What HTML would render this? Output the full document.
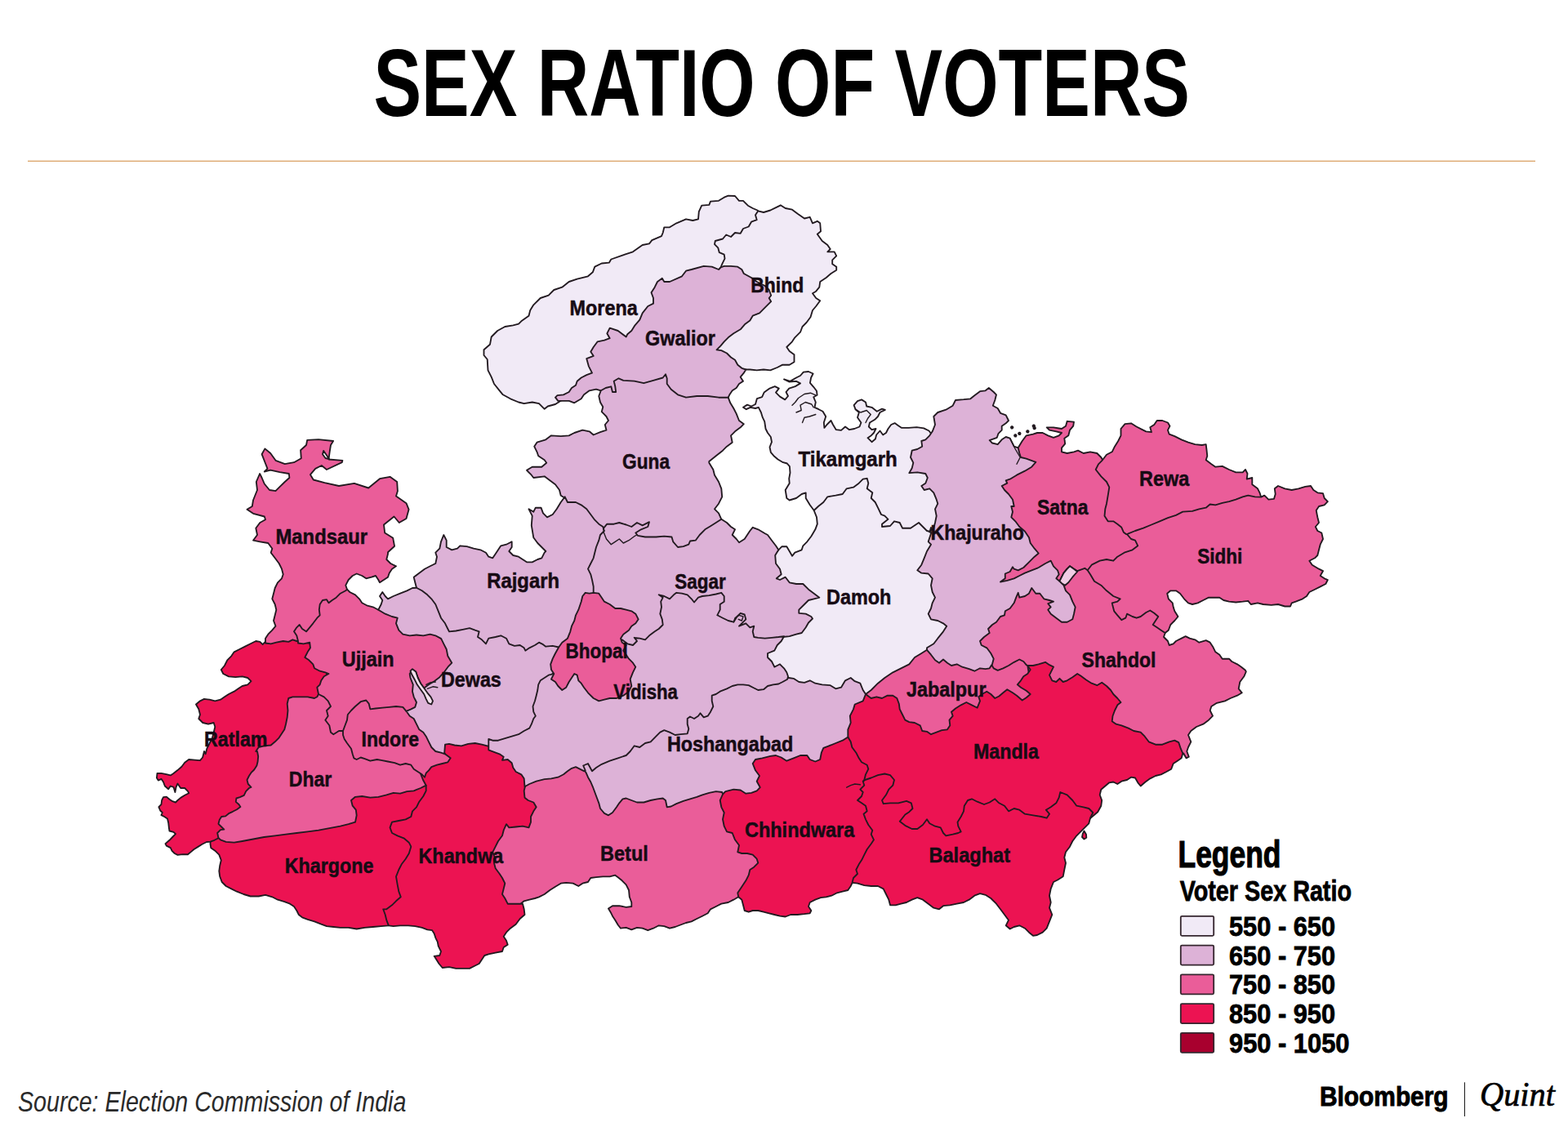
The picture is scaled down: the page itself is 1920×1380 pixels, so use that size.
<!DOCTYPE html>
<html><head><meta charset="utf-8"><title>Sex Ratio of Voters</title>
<style>
html,body{margin:0;padding:0;background:#fff;}
body{width:1920px;height:1380px;overflow:hidden;font-family:"Liberation Sans",sans-serif;}
svg{display:block;}

</style></head><body>
<svg width="1920" height="1380" viewBox="0 0 1920 1380" font-family="Liberation Sans, sans-serif">
<rect width="1920" height="1380" fill="#fff"/>
<g stroke="#221a20" stroke-width="1.85" stroke-linejoin="round">
<path d="M927.5,257.5 L921.7,255.0 L915.8,251.7 L910.0,245.8 L905.0,245.8 L900.0,240.0 L891.7,239.7 L886.7,241.7 L880.0,245.8 L870.0,246.7 L868.3,250.8 L859.2,251.7 L855.8,259.2 L855.0,268.3 L848.3,270.0 L840.0,268.3 L828.3,273.3 L820.0,278.3 L813.3,278.3 L811.7,285.0 L810.0,289.2 L798.3,294.2 L795.0,298.3 L786.7,300.0 L775.0,308.3 L765.0,311.7 L748.3,317.5 L745.8,321.7 L736.7,322.5 L728.3,326.7 L725.8,333.3 L720.0,338.3 L706.7,341.7 L696.7,345.0 L688.3,351.7 L678.3,355.0 L671.7,361.7 L661.7,365.0 L653.3,373.3 L649.2,380.0 L647.5,386.7 L638.3,393.3 L635.0,396.7 L628.3,398.3 L618.3,400.0 L609.2,405.0 L601.7,412.5 L600.0,421.7 L592.5,428.3 L592.5,435.0 L596.7,440.0 L597.5,453.3 L601.7,461.7 L605.0,470.0 L611.7,478.3 L615.8,483.3 L625.0,488.3 L635.0,492.5 L641.7,494.2 L651.7,492.5 L660.0,494.2 L666.7,500.8 L670.8,497.5 L680.0,495.0 L686.7,490.8 L760.0,450.0 L860.0,380.0 L900.0,300.0 L940.0,290.0 L934.0,265.0Z" fill="#F1EAF6"/>
<path d="M928.3,258.3 L935.0,260.0 L943.3,257.5 L951.7,253.3 L955.8,251.3 L961.7,255.0 L970.0,256.7 L976.7,261.7 L985.0,267.5 L991.7,265.8 L995.0,273.3 L1000.8,270.8 L1004.2,273.3 L1005.0,283.3 L1000.8,286.7 L1006.7,295.0 L1013.3,300.0 L1016.7,305.0 L1013.3,308.3 L1021.7,308.3 L1024.2,313.3 L1019.2,318.3 L1019.2,323.3 L1024.2,326.7 L1024.2,330.8 L1017.5,335.0 L1011.7,340.0 L1004.2,345.0 L1003.3,351.7 L999.2,356.7 L995.0,359.2 L999.2,365.0 L1004.2,368.3 L999.2,375.0 L995.0,380.0 L992.5,388.3 L987.5,395.0 L982.5,400.0 L980.0,406.7 L973.3,413.3 L970.0,418.3 L963.3,425.0 L966.7,430.0 L972.5,434.2 L972.5,443.3 L966.7,446.7 L958.3,446.7 L951.7,450.0 L943.3,453.3 L935.0,452.5 L926.7,453.3 L918.3,452.5 L913.3,452.5 L890.0,462.0 L860.0,420.0 L870.0,350.0 L882.5,327.5 L884.2,323.3 L887.5,316.7 L886.7,311.7 L880.8,309.2 L879.2,303.3 L875.0,299.2 L875.8,295.0 L885.0,292.5 L889.2,287.5 L895.0,290.0 L900.0,285.0 L906.7,285.8 L910.0,280.0 L916.7,277.5 L920.0,271.7 L926.7,269.2 L925.0,263.3Z" fill="#F1EAF6"/>
<path d="M882.5,327.5 L886.7,325.8 L895.0,325.8 L903.3,326.7 L908.3,330.0 L910.8,335.0 L920.0,340.0 L926.7,345.0 L936.7,350.0 L941.7,355.0 L944.2,361.7 L941.7,365.0 L944.2,369.2 L936.7,376.7 L930.0,383.3 L921.7,386.7 L918.3,392.5 L912.5,396.7 L906.7,403.3 L898.3,408.3 L891.7,413.3 L886.7,418.3 L882.5,423.3 L877.5,428.3 L883.3,429.2 L890.0,432.5 L895.0,437.5 L900.0,440.8 L903.3,446.7 L908.3,450.8 L913.3,452.5 L910.8,456.7 L906.7,461.7 L910.0,466.7 L905.0,470.0 L901.7,475.0 L896.7,478.3 L893.3,483.3 L891.7,486.7 L880.0,505.0 L760.0,505.0 L735.8,478.3 L730.0,476.7 L721.7,478.3 L715.0,483.3 L711.7,488.3 L703.3,493.3 L696.7,490.8 L687.5,490.8 L683.3,490.8 L680.0,486.7 L682.5,484.2 L690.0,483.3 L696.7,480.0 L700.0,475.0 L705.0,471.7 L706.7,466.7 L711.7,462.5 L718.3,459.2 L725.0,456.7 L720.8,448.3 L718.3,439.2 L726.7,435.8 L723.3,430.8 L726.7,425.0 L731.7,418.3 L740.0,416.7 L746.7,414.2 L743.3,408.3 L746.7,401.7 L756.7,405.0 L766.7,412.5 L768.3,409.2 L773.3,405.0 L777.5,398.3 L783.3,391.7 L786.7,383.3 L793.3,375.0 L800.0,371.7 L800.0,365.0 L797.5,358.3 L801.7,351.7 L805.0,345.0 L810.8,340.8 L813.3,345.0 L820.0,345.0 L835.0,338.3 L840.0,331.7 L846.7,330.0 L861.7,325.8 L871.7,326.7 L880.0,330.0Z" fill="#DDB2D7"/>
<path d="M735.8,478.3 L741.7,475.0 L748.3,473.3 L750.0,480.0 L754.2,480.0 L753.3,473.3 L751.7,466.7 L757.5,463.3 L763.3,465.8 L776.7,466.7 L788.3,469.2 L800.0,465.8 L811.7,462.5 L815.0,458.3 L816.7,463.3 L816.7,470.0 L821.7,476.7 L830.0,483.3 L840.0,486.7 L853.3,485.0 L866.7,485.0 L880.0,486.7 L890.0,486.7 L891.7,486.7 L894.2,493.3 L898.3,500.0 L901.7,506.7 L905.0,515.0 L910.8,519.2 L906.7,523.3 L900.0,528.3 L895.0,533.3 L896.7,541.7 L890.0,546.7 L885.0,551.7 L876.7,558.3 L868.3,565.0 L868.3,566.7 L873.3,575.0 L875.0,581.7 L880.0,590.0 L883.3,598.3 L884.2,608.3 L880.0,616.7 L875.0,623.3 L880.0,628.3 L883.3,635.8 L870.0,676.7 L736.7,676.7 L695.0,623.3 L690.8,609.2 L686.7,606.7 L685.0,600.0 L680.0,593.3 L673.3,588.3 L666.7,583.3 L653.3,585.0 L650.0,580.8 L645.0,575.8 L651.7,571.7 L663.3,571.7 L669.2,566.7 L666.7,563.3 L659.2,558.3 L657.5,553.3 L654.2,546.7 L657.5,541.7 L668.3,538.3 L675.0,533.3 L686.7,534.2 L696.7,533.3 L703.3,530.0 L713.3,526.7 L721.7,528.3 L726.7,532.5 L735.0,529.2 L742.5,526.7 L740.8,520.0 L745.0,515.0 L742.5,510.0 L736.7,504.2 L738.3,498.3 L735.0,492.5 L733.3,485.0Z" fill="#DDB2D7"/>
<path d="M910.0,498.8 L915.0,495.6 L920.0,497.5 L925.0,495.0 L926.9,488.1 L933.1,486.2 L935.6,480.6 L942.5,475.6 L948.8,473.1 L953.8,475.6 L950.0,480.6 L955.0,485.6 L961.2,489.4 L965.0,485.0 L962.5,480.0 L966.2,475.6 L973.8,473.1 L980.0,469.4 L975.0,466.9 L966.2,467.5 L960.0,464.4 L967.5,466.9 L975.0,462.5 L980.0,460.0 L983.8,455.6 L990.0,455.0 L995.6,457.5 L993.1,462.5 L991.9,468.8 L996.2,473.8 L1000.0,478.8 L1000.6,483.8 L996.2,486.2 L998.8,492.5 L997.5,498.8 L1002.5,501.2 L1007.5,503.8 L1011.2,510.0 L1008.8,517.5 L1009.4,523.8 L1012.5,520.0 L1017.5,515.0 L1020.0,520.0 L1023.8,526.2 L1030.0,526.9 L1035.0,522.5 L1040.0,526.2 L1046.2,525.0 L1052.5,522.5 L1054.4,517.5 L1050.0,511.2 L1051.9,505.0 L1047.5,501.2 L1045.6,496.2 L1050.0,491.2 L1055.0,489.4 L1060.0,492.5 L1061.2,497.5 L1067.5,498.8 L1073.8,503.8 L1080.0,500.6 L1083.8,501.9 L1077.5,505.0 L1075.0,510.0 L1071.2,513.8 L1065.0,517.5 L1063.8,522.5 L1067.5,526.2 L1072.5,525.0 L1070.0,530.0 L1066.2,533.8 L1062.5,536.2 L1067.5,541.2 L1071.9,537.5 L1073.1,532.5 L1077.5,527.5 L1081.2,532.5 L1085.0,530.0 L1087.5,525.0 L1091.2,520.0 L1095.6,518.1 L1100.0,521.2 L1103.8,523.8 L1112.5,523.8 L1122.5,523.1 L1131.2,524.4 L1137.5,527.5 L1139.4,530.0 L1160.0,560.0 L1160.0,640.0 L1100.0,670.0 L1015.0,645.0 L996.7,625.0 L991.7,618.3 L986.7,610.0 L986.7,603.3 L981.7,605.0 L975.0,610.0 L966.7,612.5 L963.3,610.0 L961.7,600.0 L966.7,591.7 L966.2,586.2 L967.5,578.8 L966.9,571.2 L963.8,567.5 L958.8,566.2 L952.5,562.5 L948.1,558.8 L943.8,553.8 L942.5,547.5 L945.0,541.2 L943.8,535.0 L940.0,530.0 L937.5,525.0 L936.2,516.2 L933.8,511.2 L931.9,505.0 L928.8,498.8 L925.0,500.0 L918.8,498.8 L913.8,501.2Z" fill="#F1EAF6"/>
<path d="M996.7,625.0 L1002.0,620.0 L1008.3,615.0 L1013.3,608.3 L1023.3,606.7 L1031.7,605.0 L1036.7,598.3 L1045.0,596.7 L1051.7,591.7 L1056.7,586.7 L1061.7,585.8 L1063.3,591.7 L1061.7,598.3 L1068.3,603.3 L1066.7,610.0 L1071.7,615.0 L1075.0,621.7 L1079.0,630.0 L1083.3,631.7 L1087.5,635.8 L1080.0,641.7 L1080.0,645.0 L1090.0,644.0 L1095.0,638.3 L1101.7,640.0 L1105.0,646.7 L1115.0,646.7 L1125.0,640.0 L1130.0,645.0 L1135.0,650.0 L1139.0,651.0 L1160.0,660.0 L1160.0,790.0 L1100.0,850.0 L1050.0,870.0 L940.0,860.0 L930.0,700.0 L953.3,673.3 L957.5,669.2 L963.3,669.2 L966.7,675.0 L970.0,680.8 L973.3,676.7 L981.7,673.3 L983.3,668.3 L988.3,663.3 L993.3,656.7 L998.3,648.3 L1000.8,641.7 L1000.0,633.3 L996.7,625.0Z" fill="#F1EAF6"/>
<path d="M1141.7,528.3 L1145.0,520.0 L1143.3,510.0 L1148.3,505.0 L1158.3,501.7 L1166.7,496.7 L1170.0,490.0 L1180.0,489.2 L1188.3,488.3 L1193.3,484.2 L1200.0,479.2 L1206.7,478.3 L1210.8,475.0 L1216.7,480.0 L1220.0,483.3 L1218.3,490.0 L1215.8,496.7 L1221.7,500.0 L1225.0,505.8 L1231.7,508.3 L1235.0,515.0 L1231.7,518.3 L1226.7,521.7 L1226.7,526.7 L1222.5,530.8 L1220.8,535.8 L1211.7,539.2 L1215.0,542.5 L1221.7,544.2 L1226.7,538.3 L1231.7,535.0 L1236.7,536.7 L1239.2,541.7 L1241.7,546.7 L1246.7,548.3 L1300.0,570.0 L1330.0,700.0 L1330.0,740.0 L1310.0,800.0 L1230.0,830.0 L1130.0,830.0 L1135.0,795.0 L1135.0,793.3 L1143.3,788.3 L1148.3,781.7 L1155.0,773.3 L1159.2,766.7 L1155.0,763.3 L1148.3,760.0 L1140.0,758.3 L1136.7,751.7 L1140.0,745.0 L1141.7,738.3 L1145.0,731.7 L1141.7,725.0 L1140.0,716.7 L1141.7,708.3 L1136.7,702.5 L1128.3,701.7 L1123.3,698.3 L1128.3,691.7 L1131.7,683.3 L1135.0,675.0 L1140.0,666.7 L1136.7,663.3 L1140.0,653.3 L1140.0,645.8 L1138.3,651.7 L1143.3,646.7 L1145.0,640.0 L1146.7,631.7 L1145.0,623.3 L1148.3,616.7 L1146.7,611.7 L1143.3,603.3 L1138.3,598.3 L1131.7,600.0 L1128.3,595.0 L1133.3,591.7 L1135.8,585.0 L1133.3,580.0 L1123.3,578.3 L1113.3,579.2 L1116.7,573.3 L1118.3,566.7 L1115.0,560.0 L1116.7,551.7 L1123.3,550.0 L1129.2,546.7 L1128.3,540.0 L1133.3,538.3 L1138.3,533.3Z" fill="#DDB2D7"/>
<path d="M1246.7,548.3 L1251.7,540.0 L1256.7,533.3 L1265.0,531.7 L1270.0,530.0 L1276.7,530.0 L1283.3,533.3 L1290.0,535.8 L1296.7,533.3 L1300.0,530.0 L1293.3,528.3 L1285.0,526.7 L1281.7,523.3 L1290.0,523.3 L1300.0,525.0 L1305.0,521.7 L1306.7,515.8 L1315.0,516.7 L1314.2,521.7 L1310.0,526.7 L1308.3,533.3 L1303.3,536.7 L1304.2,543.3 L1300.0,548.3 L1300.0,553.3 L1306.7,555.0 L1315.0,553.3 L1320.0,551.7 L1326.7,555.0 L1335.0,553.3 L1343.3,555.0 L1348.3,560.0 L1350.8,564.2 L1385.0,600.0 L1400.0,640.0 L1410.0,680.0 L1328.0,707.0 L1319.2,699.2 L1315.0,696.7 L1310.0,693.3 L1306.7,696.7 L1302.5,701.7 L1300.0,706.7 L1297.5,711.7 L1293.3,708.3 L1296.7,703.3 L1295.0,698.3 L1290.0,693.3 L1286.7,686.7 L1280.0,690.0 L1271.7,695.0 L1263.3,698.3 L1255.0,701.7 L1248.3,705.0 L1241.7,708.3 L1233.3,710.8 L1225.0,712.5 L1230.8,708.3 L1230.8,702.5 L1236.7,700.0 L1240.0,694.2 L1241.7,696.7 L1246.7,698.3 L1253.3,695.0 L1260.0,688.3 L1266.7,681.7 L1271.7,677.5 L1266.7,671.7 L1261.7,665.0 L1260.0,658.3 L1255.0,650.8 L1248.3,645.0 L1243.3,638.3 L1238.3,633.3 L1240.0,626.7 L1238.3,620.0 L1241.7,620.0 L1240.0,611.7 L1235.0,605.0 L1230.0,600.0 L1226.7,595.0 L1233.3,591.7 L1231.7,588.3 L1236.7,586.7 L1245.0,581.7 L1255.0,576.7 L1263.3,571.7 L1268.3,565.8 L1256.7,561.7 L1250.0,560.0 L1248.3,555.0Z" fill="#EA5D99"/>
<path d="M1350.0,563.3 L1355.0,556.7 L1361.7,553.3 L1365.0,546.7 L1369.2,540.0 L1372.5,533.3 L1372.5,525.0 L1377.5,519.2 L1385.0,518.3 L1391.7,522.5 L1398.3,525.8 L1403.3,528.3 L1410.0,529.2 L1408.3,523.3 L1413.3,520.0 L1416.7,515.0 L1423.3,515.0 L1430.0,517.5 L1432.5,521.7 L1430.0,526.7 L1431.7,531.7 L1438.3,534.2 L1446.7,538.3 L1455.0,541.7 L1463.3,544.2 L1471.7,545.0 L1476.7,544.2 L1477.5,550.8 L1478.3,558.3 L1476.7,563.3 L1483.3,568.3 L1488.3,571.7 L1496.7,570.8 L1505.0,575.0 L1513.3,578.3 L1521.7,578.3 L1525.0,575.0 L1527.5,580.0 L1526.7,586.7 L1533.3,585.0 L1533.3,593.3 L1540.0,598.3 L1542.5,603.3 L1544.2,608.7 L1520.0,640.0 L1400.0,657.0 L1379.2,654.2 L1375.8,651.7 L1373.3,645.8 L1368.3,641.7 L1363.3,638.3 L1356.7,638.3 L1352.5,631.7 L1353.3,623.3 L1355.0,616.7 L1356.7,606.7 L1358.3,596.7 L1355.0,590.0 L1348.3,583.3 L1341.7,575.0 L1345.0,568.3Z" fill="#EA5D99"/>
<path d="M1544.2,608.7 L1548.3,606.7 L1553.3,611.7 L1560.0,610.8 L1561.7,605.0 L1560.8,598.3 L1565.0,595.0 L1573.3,598.3 L1581.7,600.0 L1590.0,598.3 L1598.3,595.8 L1605.0,595.0 L1608.3,600.0 L1613.3,603.3 L1620.0,604.2 L1621.7,610.0 L1625.8,614.2 L1621.7,618.3 L1615.0,620.0 L1611.7,625.0 L1613.3,633.3 L1615.0,640.0 L1610.8,645.0 L1613.3,650.0 L1618.3,652.5 L1620.0,660.0 L1616.7,666.7 L1615.0,673.3 L1613.3,680.0 L1610.0,683.3 L1603.3,686.7 L1606.7,691.7 L1615.0,696.7 L1620.0,699.2 L1616.7,705.0 L1621.7,708.3 L1625.8,710.0 L1623.3,715.0 L1616.7,718.3 L1610.0,721.7 L1603.3,725.0 L1600.0,730.0 L1595.0,733.3 L1586.7,736.7 L1581.7,738.3 L1580.0,742.5 L1573.3,742.5 L1565.0,740.0 L1556.7,740.8 L1546.7,740.0 L1540.0,738.3 L1531.7,740.0 L1528.3,735.8 L1521.7,736.7 L1513.3,737.5 L1505.0,736.7 L1498.3,735.0 L1493.3,731.7 L1486.7,731.7 L1480.0,731.7 L1473.3,735.0 L1466.7,738.3 L1460.0,740.0 L1455.0,738.3 L1450.0,733.3 L1445.0,726.7 L1440.0,723.3 L1433.3,723.3 L1429.2,726.7 L1430.8,733.3 L1435.8,738.3 L1436.7,743.3 L1438.3,748.3 L1442.5,755.0 L1438.3,760.0 L1433.3,765.0 L1430.8,771.7 L1426.7,775.0 L1400.0,790.0 L1340.0,740.0 L1325.0,705.0 L1331.7,698.3 L1336.7,691.7 L1346.7,686.7 L1355.0,685.0 L1363.3,686.7 L1368.3,681.7 L1376.7,676.7 L1386.7,673.3 L1393.3,668.3 L1390.0,661.7 L1385.0,660.0 L1380.0,654.2 L1381.7,653.3 L1390.0,650.0 L1400.0,646.7 L1410.0,642.5 L1420.0,638.3 L1430.0,634.2 L1440.0,630.8 L1448.3,626.7 L1460.0,625.8 L1468.3,623.3 L1476.7,621.7 L1481.7,617.5 L1488.3,618.3 L1496.7,615.8 L1505.0,614.2 L1513.3,611.7 L1521.7,608.3 L1528.3,606.7 L1536.7,608.3Z" fill="#EA5D99"/>
<path d="M1213.3,818.3 L1215.0,813.3 L1216.7,806.7 L1213.3,800.0 L1208.3,793.3 L1201.7,790.0 L1200.0,785.0 L1205.0,780.0 L1211.7,775.0 L1210.0,770.0 L1215.0,765.0 L1220.0,761.7 L1225.0,755.0 L1230.0,753.3 L1230.8,748.3 L1236.7,745.0 L1241.7,738.3 L1244.2,731.7 L1246.7,725.8 L1248.3,731.7 L1255.0,730.0 L1260.0,726.7 L1263.3,720.0 L1268.3,726.7 L1273.3,726.7 L1278.3,733.3 L1285.0,735.0 L1290.0,736.7 L1283.3,739.2 L1286.7,743.3 L1283.3,746.7 L1286.7,751.7 L1293.3,756.7 L1300.0,761.7 L1306.7,761.7 L1313.3,758.3 L1315.0,751.7 L1316.7,743.3 L1313.3,736.7 L1310.0,728.3 L1305.0,723.3 L1302.5,716.7 L1297.5,711.7 L1300.0,706.7 L1302.5,701.7 L1306.7,696.7 L1310.0,693.3 L1315.0,696.7 L1319.2,699.2 L1328.3,695.8 L1331.7,698.3 L1335.0,703.3 L1340.0,711.7 L1348.3,716.7 L1355.0,723.3 L1363.3,730.0 L1371.7,733.3 L1368.3,736.7 L1361.7,738.3 L1362.5,741.7 L1364.2,748.3 L1368.3,753.3 L1373.3,759.2 L1378.3,756.7 L1380.0,751.7 L1386.7,755.0 L1391.7,756.7 L1396.7,755.0 L1403.3,750.0 L1408.3,747.5 L1413.3,750.8 L1418.3,755.0 L1415.0,760.0 L1411.7,765.0 L1416.7,768.3 L1421.7,771.7 L1426.7,775.0 L1425.0,780.0 L1430.0,785.0 L1431.7,790.0 L1436.7,788.3 L1440.0,785.0 L1446.7,781.7 L1451.7,779.2 L1456.7,781.7 L1463.3,783.3 L1468.3,786.7 L1476.7,784.2 L1481.7,786.7 L1485.0,791.7 L1488.3,798.3 L1493.3,801.7 L1496.7,806.7 L1505.0,806.7 L1508.3,810.0 L1515.0,813.3 L1520.0,816.7 L1525.0,820.8 L1525.8,822.5 L1523.3,828.3 L1518.3,835.0 L1516.7,843.3 L1520.8,848.3 L1515.0,851.7 L1506.7,855.0 L1500.0,858.3 L1490.0,860.8 L1483.3,865.0 L1481.7,870.0 L1485.0,876.7 L1480.0,881.7 L1473.3,886.7 L1465.0,890.0 L1458.3,895.0 L1455.0,900.0 L1458.3,908.3 L1455.0,915.0 L1453.3,920.0 L1455.8,926.7 L1452.5,928.3 L1449.2,922.5 L1400.0,930.0 L1300.0,880.0 L1250.0,850.0 L1220.0,840.0Z" fill="#EA5D99"/>
<path d="M1060.0,850.0 L1066.7,845.0 L1075.0,836.7 L1083.3,830.0 L1093.3,823.3 L1103.3,818.3 L1113.3,813.3 L1120.0,805.0 L1128.3,800.0 L1135.0,795.8 L1140.0,801.7 L1145.0,808.3 L1150.0,811.7 L1155.0,807.5 L1160.0,811.7 L1165.0,815.0 L1171.7,813.3 L1178.3,816.7 L1186.7,819.2 L1193.3,821.7 L1200.0,818.3 L1206.7,819.2 L1211.7,818.3 L1214.2,814.2 L1216.7,818.3 L1221.7,820.8 L1228.3,818.3 L1235.0,815.0 L1241.7,810.8 L1248.3,807.5 L1253.3,810.0 L1256.7,814.2 L1258.3,815.0 L1265.0,856.7 L1256.7,878.3 L1156.7,920.0 L1090.0,886.7Z" fill="#EA5D99"/>
<path d="M1258.3,815.0 L1265.0,815.0 L1271.7,813.3 L1280.0,810.8 L1285.0,814.2 L1290.0,816.7 L1287.5,821.7 L1285.0,826.7 L1288.3,833.3 L1293.3,835.0 L1297.5,830.8 L1301.7,835.0 L1306.7,833.3 L1313.3,829.2 L1319.2,825.0 L1323.3,827.5 L1330.0,832.5 L1336.7,836.7 L1343.3,839.2 L1349.2,835.8 L1355.0,840.0 L1360.0,845.0 L1363.3,850.0 L1368.3,855.0 L1372.5,860.0 L1368.3,863.3 L1365.0,870.0 L1362.5,876.7 L1361.7,883.3 L1366.7,886.7 L1373.3,888.3 L1381.7,891.7 L1388.3,895.0 L1396.7,896.7 L1401.7,901.7 L1406.7,908.3 L1415.0,911.7 L1423.3,911.7 L1431.7,908.3 L1438.3,906.7 L1443.3,909.2 L1445.8,916.7 L1448.3,922.5 L1446.7,928.3 L1441.7,931.7 L1436.7,935.0 L1434.2,941.7 L1428.3,945.0 L1421.7,948.3 L1415.0,950.0 L1408.3,953.3 L1402.5,957.5 L1396.7,962.5 L1393.3,958.3 L1390.0,952.5 L1385.0,951.7 L1380.0,955.0 L1373.3,956.7 L1368.3,960.0 L1363.3,957.5 L1358.3,958.3 L1353.3,962.5 L1348.3,966.7 L1346.7,973.3 L1349.2,980.0 L1348.3,986.7 L1344.2,994.2 L1290.0,1040.0 L1100.0,1050.0 L1050.0,1030.0 L1030.0,950.0 L1020.0,880.0 L1040.0,850.0 L1060.0,850.0 L1066.7,855.0 L1073.3,853.3 L1080.0,855.0 L1086.7,851.7 L1093.3,851.7 L1098.3,855.0 L1100.8,861.7 L1101.7,868.3 L1105.0,875.0 L1108.3,881.7 L1113.3,884.2 L1120.0,885.0 L1126.7,888.3 L1129.2,895.0 L1135.0,895.8 L1140.0,899.2 L1146.7,896.7 L1153.3,894.2 L1160.0,893.3 L1163.3,888.3 L1162.5,881.7 L1166.7,876.7 L1165.0,871.7 L1170.0,867.5 L1176.7,863.3 L1183.3,860.0 L1190.0,863.3 L1196.7,866.7 L1200.0,858.3 L1198.3,853.3 L1202.5,850.0 L1208.3,846.7 L1213.3,850.0 L1218.3,855.0 L1223.3,852.5 L1228.3,848.3 L1233.3,844.2 L1240.0,848.3 L1245.0,851.7 L1251.7,857.5 L1256.7,854.2 L1261.7,850.0 L1256.7,845.8 L1250.0,841.7 L1245.8,838.3 L1250.0,833.3 L1253.3,828.3 L1258.3,825.0 L1261.7,820.0Z" fill="#EC1352"/>
<path d="M1059.2,955.0 L1066.7,952.5 L1075.0,949.2 L1083.3,947.5 L1090.0,949.2 L1095.0,955.0 L1093.3,961.7 L1088.3,966.7 L1085.0,973.3 L1080.0,980.0 L1081.7,984.2 L1090.0,983.3 L1100.0,983.3 L1110.0,980.8 L1115.8,983.3 L1117.5,990.0 L1113.3,994.2 L1108.3,997.5 L1105.0,1001.7 L1101.7,1005.8 L1108.3,1010.8 L1116.7,1015.0 L1123.3,1015.0 L1130.0,1010.0 L1135.0,1003.3 L1138.3,1008.3 L1145.0,1011.7 L1151.7,1013.3 L1155.0,1020.0 L1158.3,1023.3 L1166.7,1021.7 L1173.3,1020.0 L1176.7,1018.3 L1173.3,1011.7 L1172.5,1006.7 L1176.7,1000.0 L1180.0,993.3 L1180.8,986.7 L1185.0,980.0 L1190.0,978.3 L1196.7,981.7 L1205.0,985.0 L1211.7,982.5 L1218.3,978.3 L1223.3,983.3 L1230.0,986.7 L1235.0,993.3 L1241.7,990.0 L1248.3,991.7 L1255.0,996.7 L1265.0,998.3 L1275.0,1000.0 L1281.7,1001.7 L1285.0,996.7 L1280.8,991.7 L1286.7,988.3 L1293.3,983.3 L1296.7,976.7 L1298.3,970.0 L1306.7,973.3 L1313.3,980.0 L1318.3,986.7 L1326.7,988.3 L1333.3,990.0 L1338.3,995.0 L1335.0,1001.7 L1333.3,1008.3 L1328.3,1013.3 L1323.3,1018.3 L1318.3,1023.3 L1313.3,1030.0 L1310.0,1036.7 L1305.0,1043.3 L1303.3,1050.0 L1305.0,1056.7 L1303.3,1065.0 L1301.7,1073.3 L1295.0,1077.5 L1290.0,1080.0 L1286.7,1088.3 L1285.0,1096.7 L1286.7,1105.0 L1285.0,1111.7 L1288.3,1120.0 L1285.0,1128.3 L1281.7,1136.7 L1276.7,1141.7 L1270.0,1145.0 L1265.0,1145.8 L1260.0,1141.7 L1255.0,1136.7 L1248.3,1133.3 L1241.7,1135.0 L1236.7,1137.5 L1231.7,1133.3 L1235.0,1126.7 L1230.0,1120.0 L1225.0,1113.3 L1220.0,1106.7 L1213.3,1100.0 L1206.7,1095.8 L1200.0,1094.2 L1193.3,1096.7 L1186.7,1101.7 L1180.0,1105.0 L1171.7,1106.7 L1163.3,1108.3 L1155.0,1109.2 L1150.0,1113.3 L1143.3,1111.7 L1136.7,1106.7 L1130.0,1101.7 L1123.3,1099.2 L1116.7,1101.7 L1110.0,1105.0 L1103.3,1106.7 L1096.7,1108.3 L1090.0,1108.3 L1088.3,1101.7 L1085.0,1095.0 L1081.7,1088.3 L1075.0,1085.0 L1066.7,1085.0 L1058.3,1084.2 L1050.0,1081.7 L1043.3,1080.8 L1040.8,1079.2 L1035.0,1060.0 L1040.0,970.0Z" fill="#EC1352"/>
<path d="M1038.3,902.5 L1041.7,908.3 L1043.3,915.0 L1048.3,921.7 L1051.7,928.3 L1055.0,933.3 L1061.7,936.7 L1063.3,941.7 L1060.0,948.3 L1058.3,955.0 L1056.7,956.7 L1058.3,961.7 L1053.3,966.7 L1056.7,970.0 L1055.0,975.0 L1050.0,980.0 L1055.0,983.3 L1060.0,986.7 L1061.7,993.3 L1057.5,996.7 L1060.0,1003.3 L1063.3,1010.0 L1068.3,1016.7 L1066.7,1021.7 L1070.0,1028.3 L1066.7,1033.3 L1061.7,1040.0 L1058.3,1046.7 L1055.0,1053.3 L1051.7,1058.3 L1048.3,1065.0 L1050.0,1070.0 L1045.0,1075.0 L1043.3,1081.7 L1041.7,1085.0 L1038.3,1090.0 L1031.7,1091.7 L1025.0,1093.3 L1018.3,1096.7 L1011.7,1098.3 L1005.0,1099.2 L998.3,1101.7 L991.7,1105.0 L990.0,1110.0 L993.3,1115.0 L991.7,1118.3 L985.0,1119.2 L976.7,1120.0 L968.3,1120.0 L961.7,1122.5 L955.0,1121.7 L948.3,1120.0 L941.7,1118.3 L935.0,1116.7 L928.3,1115.0 L921.7,1115.0 L916.7,1116.7 L911.7,1115.0 L910.0,1108.3 L908.3,1101.7 L904.2,1098.3 L890.0,1070.0 L870.0,980.0 L890.0,930.0 L1000.0,870.0Z" fill="#EC1352"/>
<path d="M965.8,830.0 L971.7,830.8 L978.3,835.0 L985.0,835.8 L991.7,833.3 L998.3,836.7 L1006.7,838.3 L1016.7,839.2 L1023.3,843.3 L1030.0,841.7 L1035.0,833.3 L1041.7,830.0 L1046.7,834.2 L1053.3,836.7 L1056.7,845.0 L1060.0,850.0 L1056.7,858.3 L1046.7,862.5 L1045.0,868.3 L1040.8,876.7 L1041.7,885.0 L1038.3,893.3 L1038.3,902.5 L1038.3,902.5 L1031.7,906.7 L1023.3,910.0 L1015.0,913.3 L1008.3,915.8 L1005.8,921.7 L1004.2,930.0 L998.3,932.5 L991.7,930.0 L988.3,925.0 L980.0,925.0 L971.7,928.3 L963.3,931.7 L956.7,927.5 L950.0,925.0 L943.3,925.8 L933.3,928.3 L925.0,930.0 L921.7,935.0 L925.0,943.3 L930.0,950.0 L926.7,956.7 L930.8,964.2 L926.7,968.3 L920.0,970.8 L913.3,971.7 L906.7,967.5 L898.3,966.7 L888.3,969.2 L885.0,972.5 L800.0,1030.0 L720.0,1030.0 L700.0,960.0 L720.0,900.0 L850.0,820.0Z" fill="#DDB2D7"/>
<path d="M717.5,945.8 L720.0,951.7 L723.3,957.5 L725.8,963.3 L728.3,970.0 L730.8,976.7 L733.3,983.3 L735.0,990.0 L740.0,995.8 L745.0,998.3 L750.0,995.0 L755.0,988.3 L758.3,983.3 L762.5,978.3 L766.7,977.5 L773.3,980.0 L780.0,982.5 L788.3,982.5 L796.7,980.0 L805.0,978.3 L811.7,977.5 L815.0,980.0 L816.7,988.3 L821.7,987.5 L828.3,984.2 L836.7,980.8 L845.0,978.3 L853.3,975.8 L860.0,973.3 L868.3,970.8 L876.7,969.2 L884.2,970.0 L885.0,972.5 L881.7,980.0 L883.3,988.3 L886.7,995.0 L885.0,1003.3 L886.7,1011.7 L890.0,1018.3 L896.7,1020.0 L900.0,1028.3 L905.0,1035.0 L903.3,1043.3 L908.3,1045.0 L915.0,1045.0 L921.7,1046.7 L926.7,1051.7 L928.3,1056.7 L923.3,1061.7 L918.3,1065.0 L916.7,1071.7 L913.3,1078.3 L910.0,1083.3 L906.7,1088.3 L903.3,1093.3 L904.2,1098.3 L904.2,1098.3 L898.3,1101.7 L891.7,1105.0 L883.3,1106.7 L876.7,1110.0 L870.0,1113.3 L866.7,1118.3 L860.0,1121.7 L853.3,1125.0 L846.7,1128.3 L840.0,1130.0 L833.3,1132.5 L826.7,1135.0 L820.0,1136.7 L813.3,1134.2 L806.7,1133.3 L800.0,1136.7 L793.3,1139.2 L786.7,1136.7 L780.0,1135.8 L773.3,1138.3 L766.7,1135.8 L760.0,1136.7 L756.7,1132.5 L753.3,1126.7 L750.0,1121.7 L747.5,1116.7 L745.0,1112.5 L750.0,1109.2 L758.3,1109.2 L766.7,1110.8 L773.3,1110.0 L773.3,1105.0 L770.8,1098.3 L770.0,1090.0 L766.7,1083.3 L761.7,1078.3 L756.7,1074.2 L753.3,1071.7 L746.7,1073.3 L738.3,1073.3 L730.0,1074.2 L723.3,1075.0 L720.0,1080.0 L713.3,1081.7 L708.3,1085.0 L701.7,1081.7 L693.3,1080.8 L686.7,1081.7 L680.0,1085.8 L673.3,1090.0 L666.7,1095.0 L660.0,1098.3 L655.0,1100.0 L648.3,1101.7 L641.7,1103.3 L637.5,1106.7 L625.0,1116.0 L600.0,1090.0 L600.0,1010.0 L625.0,965.0 L650.0,945.0 L700.0,925.0Z" fill="#EA5D99"/>
<path d="M643.3,961.7 L641.7,968.3 L642.5,976.7 L646.7,980.0 L653.3,982.5 L656.7,988.3 L653.3,993.3 L650.0,1000.0 L650.0,1006.7 L647.5,1013.3 L640.0,1011.7 L631.7,1012.5 L623.3,1013.3 L620.0,1009.2 L616.7,1016.7 L615.0,1023.3 L610.0,1030.0 L606.7,1036.7 L603.3,1043.3 L605.8,1050.0 L605.0,1056.7 L606.7,1063.3 L611.7,1070.0 L615.0,1075.0 L618.3,1081.7 L616.7,1088.3 L615.0,1095.0 L618.3,1100.0 L621.7,1106.7 L630.0,1106.7 L640.0,1106.7 L641.7,1113.3 L642.5,1120.0 L636.7,1125.0 L631.7,1131.7 L625.0,1136.7 L620.0,1141.7 L616.7,1146.7 L620.0,1151.7 L621.7,1156.7 L616.7,1160.0 L615.0,1165.0 L606.7,1166.7 L598.3,1168.3 L593.3,1170.0 L590.0,1175.0 L586.7,1180.0 L581.7,1182.5 L575.0,1185.8 L566.7,1185.8 L558.3,1185.8 L550.0,1184.2 L541.7,1185.0 L537.5,1180.0 L533.3,1173.3 L531.7,1170.8 L538.3,1170.0 L540.0,1165.0 L536.7,1158.3 L535.8,1153.3 L533.3,1148.3 L531.7,1143.3 L529.2,1139.2 L523.3,1138.3 L516.7,1135.8 L508.3,1134.2 L500.0,1133.3 L490.0,1133.3 L481.7,1134.2 L475.8,1133.3 L462.0,1110.0 L462.0,1010.0 L500.0,975.0 L515.0,950.0 L540.0,905.0 L600.0,900.0 L650.0,940.0Z" fill="#EC1352"/>
<path d="M475.8,1133.3 L473.3,1126.7 L471.7,1120.0 L469.2,1113.3 L473.3,1113.3 L480.0,1108.3 L485.0,1103.3 L490.8,1098.3 L488.3,1091.7 L486.7,1083.3 L485.0,1073.3 L488.3,1065.0 L491.7,1058.3 L496.7,1051.7 L500.8,1045.0 L503.3,1036.7 L500.8,1031.7 L495.0,1026.7 L486.7,1023.3 L480.0,1020.0 L477.5,1013.3 L480.0,1006.7 L488.3,1005.0 L496.7,1003.3 L503.3,1000.0 L505.0,993.3 L510.0,988.3 L513.3,981.7 L518.3,975.0 L521.7,968.3 L521.7,961.7 L500.0,950.0 L300.0,990.0 L258.0,1020.0 L257.5,1033.3 L258.3,1038.3 L263.3,1041.7 L268.3,1046.7 L270.8,1053.3 L269.2,1060.0 L268.3,1066.7 L269.2,1073.3 L271.7,1080.0 L276.7,1085.0 L283.3,1088.3 L290.0,1091.7 L298.3,1095.0 L306.7,1097.5 L316.7,1097.5 L325.0,1095.8 L333.3,1098.3 L340.0,1101.7 L348.3,1104.2 L355.0,1106.7 L360.0,1110.0 L363.3,1115.0 L365.8,1120.0 L370.0,1123.3 L376.7,1125.8 L385.0,1128.3 L393.3,1131.7 L400.0,1134.2 L408.3,1135.0 L416.7,1135.8 L426.7,1135.8 L436.7,1137.5 L446.7,1135.8 L456.7,1135.0 L466.7,1134.2Z" fill="#EC1352"/>
<path d="M267.5,1026.2 L262.5,1028.8 L257.5,1030.6 L252.5,1031.2 L247.5,1033.8 L242.5,1036.9 L237.5,1040.0 L233.8,1043.1 L230.0,1046.2 L223.8,1046.2 L217.5,1046.9 L213.8,1045.0 L210.6,1041.9 L208.8,1038.1 L203.8,1035.6 L202.5,1033.1 L207.5,1028.8 L211.2,1025.0 L215.0,1021.2 L212.5,1018.8 L207.5,1017.5 L206.9,1013.8 L206.2,1007.5 L205.0,1002.5 L201.2,1000.0 L197.5,998.1 L198.8,995.0 L196.2,992.5 L194.4,988.1 L197.5,985.0 L198.1,980.0 L200.0,976.2 L203.8,975.6 L207.5,978.8 L211.2,981.2 L215.0,982.5 L217.5,980.0 L221.2,976.9 L226.2,973.8 L231.2,971.2 L230.0,968.8 L226.2,965.0 L221.2,965.0 L217.5,959.4 L215.6,963.8 L214.4,970.0 L212.5,963.8 L208.8,962.5 L206.2,966.2 L201.9,962.5 L200.0,957.5 L197.5,953.8 L193.8,955.6 L191.9,952.5 L192.5,946.9 L197.5,946.9 L203.8,948.1 L208.8,949.4 L212.5,946.9 L217.5,943.1 L222.5,938.8 L226.2,933.8 L231.2,930.0 L238.8,930.6 L245.0,931.2 L248.1,927.5 L250.0,920.0 L251.7,923.3 L253.3,916.7 L256.7,910.0 L260.0,903.3 L261.7,896.7 L263.3,890.0 L261.7,885.0 L255.0,886.7 L248.3,885.0 L243.3,880.0 L245.0,875.0 L243.3,868.3 L240.0,862.5 L245.0,858.3 L250.0,855.8 L256.7,856.7 L263.3,858.3 L270.0,856.7 L275.0,853.3 L280.0,850.0 L286.7,846.7 L291.7,843.3 L296.7,840.0 L303.3,838.3 L307.5,834.2 L303.3,830.0 L296.7,828.3 L288.3,829.2 L280.0,828.3 L273.3,825.0 L270.8,820.0 L275.0,815.0 L278.3,808.3 L283.3,803.3 L286.7,798.3 L293.3,795.0 L300.0,791.7 L306.7,788.3 L313.3,785.0 L318.3,785.8 L321.7,789.2 L340.0,770.0 L372.0,770.0 L400.0,800.0 L400.0,845.0 L380.0,870.0 L330.0,950.0 L290.0,1010.0Z" fill="#EC1352"/>
<path d="M267.5,1026.2 L266.2,1020.0 L270.0,1016.2 L274.4,1015.6 L271.2,1012.5 L267.5,1008.8 L268.8,1003.8 L271.2,1000.0 L276.2,999.4 L280.0,996.2 L285.0,993.8 L290.0,991.2 L294.4,988.1 L292.5,985.0 L288.8,981.9 L289.4,977.5 L293.8,976.2 L298.8,973.8 L301.2,968.8 L305.0,965.0 L307.5,963.8 L303.8,960.0 L302.5,955.0 L305.0,950.0 L307.5,946.2 L311.2,942.5 L314.4,937.5 L315.6,932.5 L316.2,926.2 L315.0,920.0 L313.3,920.0 L316.7,915.0 L323.3,913.3 L331.7,912.5 L336.7,908.3 L341.7,903.3 L345.0,898.3 L348.3,893.3 L350.0,886.7 L351.7,878.3 L352.5,870.0 L351.7,861.7 L353.3,855.0 L358.3,853.3 L366.7,853.3 L376.7,853.3 L385.0,855.0 L388.3,853.3 L390.0,850.0 L410.0,845.0 L470.0,870.0 L512.0,940.0 L518.0,955.0 L521.7,961.7 L515.0,965.0 L506.7,968.3 L498.3,969.2 L490.0,971.7 L481.7,970.8 L473.3,973.3 L463.3,975.8 L453.3,976.7 L443.3,975.0 L435.0,975.8 L430.0,980.0 L431.7,986.7 L435.8,991.7 L436.7,998.3 L435.0,1006.7 L426.7,1009.2 L416.7,1011.7 L403.3,1014.2 L390.0,1016.7 L376.7,1018.3 L363.3,1020.0 L350.0,1021.7 L336.7,1023.3 L323.3,1025.0 L310.0,1027.5 L296.7,1030.0 L286.7,1031.7 L276.7,1030.8 L270.0,1028.3 L267.5,1025.8Z" fill="#EA5D99"/>
<path d="M325.0,787.5 L325.0,781.7 L328.3,776.7 L333.3,771.7 L337.5,766.7 L335.0,760.0 L336.7,753.3 L338.3,746.7 L336.7,740.0 L333.3,733.3 L335.0,726.7 L336.7,720.0 L340.0,713.3 L345.0,708.3 L346.7,703.3 L345.0,696.7 L341.7,690.0 L336.7,683.3 L331.7,676.7 L333.3,671.7 L328.3,665.0 L318.3,663.3 L310.0,661.7 L315.0,655.0 L313.3,646.7 L318.3,640.0 L325.0,636.2 L323.8,632.5 L310.0,628.8 L302.5,623.8 L308.8,620.0 L310.0,612.5 L315.0,600.0 L313.8,590.0 L318.1,580.0 L320.6,585.0 L323.8,592.5 L330.0,600.0 L337.5,601.2 L342.5,596.2 L348.8,590.0 L354.4,585.0 L353.8,580.0 L342.5,578.1 L331.2,575.6 L323.8,577.5 L327.5,573.8 L325.0,567.5 L320.6,556.2 L324.4,549.4 L331.2,555.0 L337.5,563.8 L348.8,568.1 L360.0,566.2 L368.8,561.2 L368.1,551.2 L375.0,545.0 L376.2,538.8 L390.0,538.1 L408.1,540.0 L405.0,545.0 L403.8,552.5 L402.5,562.5 L419.4,563.8 L418.8,566.2 L400.0,575.0 L393.8,570.0 L386.2,573.8 L380.0,581.2 L383.8,587.5 L397.5,591.2 L415.0,595.0 L433.8,591.9 L451.2,597.5 L465.0,586.2 L477.5,583.8 L486.2,590.0 L486.9,601.2 L485.0,607.5 L497.5,616.2 L500.6,623.8 L497.5,635.0 L488.8,640.0 L482.5,632.5 L470.0,642.5 L471.2,652.5 L481.2,658.8 L483.1,668.8 L475.0,676.2 L475.0,678.3 L473.3,685.0 L478.3,690.0 L485.0,693.3 L480.0,696.7 L476.7,701.7 L475.0,706.7 L470.0,710.0 L465.0,713.3 L463.3,710.0 L460.0,705.0 L455.0,706.7 L448.3,708.3 L443.3,705.0 L436.7,702.5 L431.7,705.0 L426.7,710.0 L423.3,716.7 L425.0,721.7 L430.0,740.0 L390.0,790.0 L365.0,785.0 L363.3,785.0 L358.3,783.3 L353.3,785.8 L346.7,785.0 L338.3,786.7 L331.7,788.3Z" fill="#EA5D99"/>
<path d="M425.0,721.7 L428.3,725.0 L435.0,728.3 L440.0,733.3 L443.3,738.3 L450.0,741.7 L456.7,743.3 L463.3,746.7 L520.0,770.0 L570.0,800.0 L570.0,850.0 L530.0,880.0 L470.0,890.0 L420.0,895.0 L415.0,895.0 L408.3,899.2 L405.0,896.7 L403.3,888.3 L398.3,881.7 L401.7,876.7 L400.0,870.0 L405.0,865.0 L401.7,858.3 L396.7,853.3 L390.0,850.0 L390.0,850.0 L388.3,841.7 L391.7,838.3 L393.3,833.3 L396.7,828.3 L402.5,825.0 L398.3,823.3 L391.7,821.7 L385.0,818.3 L383.3,813.3 L378.3,808.3 L373.3,805.0 L376.7,798.3 L380.0,793.3 L379.2,786.7 L371.7,788.3 L365.0,787.5 L365.0,785.0 L363.3,778.3 L360.0,773.3 L363.3,768.3 L366.7,765.0 L370.0,770.0 L375.0,773.3 L379.2,768.3 L383.3,763.3 L388.3,756.7 L391.7,753.3 L390.8,746.7 L391.7,740.0 L395.0,735.0 L400.0,734.2 L402.5,738.3 L406.7,735.0 L411.7,731.7 L416.7,726.7 L423.3,723.3Z" fill="#EA5D99"/>
<path d="M420.0,895.0 L422.5,888.3 L425.0,881.7 L425.8,875.0 L430.0,870.0 L435.0,865.0 L441.7,859.2 L448.3,857.5 L451.7,861.7 L453.3,868.3 L460.0,867.5 L468.3,866.7 L476.7,865.8 L485.0,865.0 L493.3,865.8 L497.5,870.8 L520.0,880.0 L538.0,915.0 L545.0,923.3 L551.7,928.3 L548.3,933.3 L541.7,935.0 L535.0,936.7 L528.3,939.2 L525.0,943.3 L521.7,946.7 L520.0,951.7 L516.7,948.3 L511.7,945.0 L506.7,941.7 L503.3,936.7 L496.7,935.0 L490.0,936.7 L483.3,934.2 L475.0,932.5 L466.7,930.8 L461.7,930.0 L453.3,931.7 L446.7,929.2 L441.7,927.5 L436.7,930.0 L433.3,928.3 L431.7,923.3 L430.0,916.7 L425.0,910.0 L421.7,905.0 L420.0,900.0Z" fill="#EA5D99"/>
<path d="M510.0,719.7 L508.3,713.3 L506.7,706.7 L513.3,701.7 L520.0,696.7 L526.7,693.3 L533.3,690.0 L535.0,681.7 L533.3,676.7 L538.3,671.7 L540.0,663.3 L543.3,655.0 L546.7,661.7 L546.7,670.0 L553.3,673.3 L560.0,671.7 L563.3,668.3 L571.7,669.2 L580.0,671.7 L588.3,673.3 L595.0,676.7 L598.3,681.7 L603.3,683.3 L606.7,678.3 L610.0,673.3 L613.3,668.3 L620.0,666.7 L626.7,663.3 L626.7,670.0 L623.3,675.0 L628.3,680.0 L635.0,681.7 L640.0,685.0 L645.0,688.3 L651.7,688.3 L658.3,685.0 L663.3,683.3 L666.7,676.7 L668.3,675.0 L663.3,670.0 L658.3,665.0 L653.3,658.3 L650.8,643.3 L651.7,631.7 L647.5,623.3 L653.3,626.7 L655.8,621.7 L662.5,621.7 L665.0,628.3 L670.0,633.3 L676.7,630.0 L681.7,623.3 L686.7,615.0 L691.7,608.3 L695.0,615.0 L705.0,615.0 L711.7,618.3 L718.3,623.3 L723.3,630.0 L728.3,636.7 L733.3,641.7 L738.3,645.0 L739.2,648.3 L750.0,700.0 L740.0,760.0 L690.0,810.0 L560.0,790.0 L520.0,740.0Z" fill="#DDB2D7"/>
<path d="M510.0,719.7 L516.7,723.3 L523.3,728.3 L528.3,733.3 L533.3,740.0 L536.7,748.3 L540.0,756.7 L545.0,763.3 L548.3,770.0 L550.0,773.3 L558.3,772.5 L566.7,770.8 L575.0,769.2 L581.7,771.7 L586.7,773.3 L585.0,780.0 L590.0,783.3 L595.0,788.3 L598.3,781.7 L606.7,780.0 L613.3,778.3 L620.0,781.7 L623.3,788.3 L630.0,790.8 L636.7,790.0 L641.7,793.3 L643.3,796.7 L648.3,793.3 L655.0,790.0 L660.0,786.7 L665.0,789.2 L668.3,791.7 L676.7,790.8 L684.2,792.5 L700.0,800.0 L690.0,850.0 L670.0,900.0 L620.0,915.0 L598.3,913.3 L596.7,913.3 L590.0,911.7 L581.7,910.0 L573.3,910.8 L565.0,913.3 L556.7,912.5 L550.0,910.8 L545.0,911.7 L544.2,921.7 L545.0,923.3 L540.0,921.7 L533.3,920.0 L528.3,915.0 L525.0,908.3 L521.7,901.7 L518.3,896.7 L513.3,893.3 L510.0,886.7 L506.7,880.0 L501.7,876.7 L497.5,870.8 L503.3,868.3 L508.3,865.8 L510.0,860.0 L506.7,853.3 L505.0,846.7 L505.8,838.3 L502.5,830.0 L501.7,825.0 L505.0,820.0 L509.2,822.5 L511.7,830.0 L515.0,836.7 L519.2,842.5 L525.0,838.3 L531.7,834.2 L538.3,829.2 L544.2,822.5 L549.2,815.8 L553.3,811.7 L548.3,803.3 L546.7,795.0 L543.3,788.3 L540.0,781.7 L533.3,778.3 L526.7,776.7 L518.3,778.3 L510.0,777.5 L501.7,778.3 L493.3,776.7 L488.3,771.7 L485.0,763.3 L486.7,756.7 L480.0,755.0 L471.7,751.7 L463.3,746.7 L466.7,740.0 L468.3,735.0 L465.0,730.0 L468.3,725.0 L471.7,730.0 L475.0,733.3 L481.7,730.0 L490.0,726.7 L498.3,723.3 L505.0,720.0Z" fill="#DDB2D7"/>
<path d="M739.2,648.3 L739.2,646.7 L743.3,641.7 L751.7,641.7 L758.3,640.0 L766.7,642.5 L773.3,645.0 L780.0,640.0 L786.7,643.3 L795.0,639.2 L793.3,645.0 L785.0,648.3 L778.3,652.5 L780.8,655.8 L790.0,657.5 L803.3,657.5 L813.3,656.7 L822.5,657.5 L824.2,663.3 L830.0,670.0 L836.7,669.2 L843.3,666.7 L845.0,662.5 L851.7,661.7 L856.7,655.0 L863.3,648.3 L870.0,644.2 L876.7,640.0 L883.3,635.8 L890.0,640.0 L895.0,645.0 L900.0,648.3 L896.7,655.0 L901.7,660.0 L905.0,664.2 L911.7,660.0 L918.3,650.0 L921.7,645.8 L928.3,648.3 L936.7,653.3 L940.0,655.0 L945.0,661.7 L950.0,668.3 L953.3,673.3 L949.2,680.0 L950.0,690.0 L955.0,696.7 L956.7,703.3 L950.8,708.3 L955.0,710.0 L961.7,706.7 L966.7,713.3 L975.0,715.0 L983.3,715.0 L990.0,721.7 L996.7,726.7 L1003.3,731.7 L996.7,733.3 L990.0,735.0 L985.0,740.0 L978.3,746.7 L978.3,750.8 L986.7,751.7 L993.3,755.0 L995.0,757.5 L990.0,762.5 L986.7,768.3 L981.7,775.0 L975.0,776.7 L966.7,779.2 L958.3,780.0 L940.0,800.0 L850.0,790.0 L790.0,800.0 L752.0,786.0 L735.0,740.0 L726.7,725.8 L726.7,718.3 L725.0,710.0 L723.3,703.3 L720.0,696.7 L723.3,690.0 L726.7,683.3 L728.3,676.7 L730.0,670.0 L733.3,661.7 L735.0,655.0 L740.0,650.0Z" fill="#DDB2D7"/>
<path d="M761.7,783.3 L768.3,788.3 L775.0,790.0 L780.0,785.0 L776.7,780.8 L783.3,781.7 L790.0,783.3 L795.0,778.3 L801.7,773.3 L806.7,770.0 L811.7,765.0 L810.8,758.3 L808.3,751.7 L810.0,743.3 L809.2,736.7 L811.7,731.7 L806.7,728.3 L813.3,730.0 L820.0,733.3 L825.0,728.3 L828.3,725.8 L835.0,726.7 L841.7,728.3 L846.7,733.3 L850.0,737.5 L855.0,731.7 L860.0,730.0 L868.3,729.2 L876.7,727.5 L883.3,725.8 L886.7,730.0 L886.7,736.7 L881.7,740.0 L881.7,746.7 L878.3,753.3 L885.0,756.7 L891.7,760.0 L898.3,761.7 L902.5,755.0 L906.7,750.8 L911.7,752.5 L913.3,758.3 L908.3,763.3 L905.0,766.7 L913.3,763.3 L918.3,768.3 L923.3,766.7 L921.7,773.3 L923.3,780.0 L928.3,780.8 L936.7,781.7 L945.0,780.8 L953.3,780.0 L960.0,779.2 L956.7,785.0 L951.7,790.0 L948.3,796.7 L940.0,800.0 L940.0,805.0 L945.0,810.0 L948.3,816.7 L955.0,813.3 L960.0,818.3 L963.3,823.3 L965.0,828.3 L964.2,831.7 L958.3,835.0 L953.3,837.5 L946.7,838.3 L940.0,840.0 L935.0,844.2 L928.3,845.0 L923.3,842.5 L916.7,839.2 L910.0,838.3 L903.3,838.3 L896.7,840.0 L890.0,843.3 L881.7,846.7 L876.7,850.0 L871.7,851.7 L871.7,858.3 L873.3,865.0 L870.0,871.7 L866.7,876.7 L861.7,878.3 L857.5,873.3 L855.0,876.7 L850.0,880.0 L845.0,877.5 L841.7,880.0 L841.7,886.7 L843.3,892.5 L841.7,898.3 L833.3,899.2 L826.7,900.0 L820.0,896.7 L813.3,894.2 L808.3,896.7 L803.3,901.7 L796.7,908.3 L790.0,910.0 L783.3,915.0 L776.7,913.3 L771.7,920.0 L766.7,925.0 L756.7,928.3 L746.7,931.7 L736.7,935.8 L730.0,940.0 L725.0,944.2 L720.0,935.0 L714.2,937.5 L716.7,943.3 L715.0,944.2 L710.0,941.7 L705.0,939.2 L700.0,940.8 L695.0,944.2 L690.0,948.3 L683.3,951.7 L675.0,953.3 L666.7,954.2 L656.7,956.7 L648.3,960.0 L642.5,963.3 L641.7,953.3 L638.3,948.3 L631.7,945.0 L628.3,940.0 L626.7,934.2 L621.7,930.0 L615.0,930.8 L616.7,926.7 L611.7,923.3 L605.0,920.8 L598.3,918.3 L598.3,913.3 L598.3,905.0 L603.3,906.7 L610.0,906.7 L618.3,904.2 L626.7,901.7 L635.0,899.2 L641.7,895.0 L648.3,891.7 L650.8,886.7 L653.3,880.0 L655.8,876.7 L653.3,871.7 L652.5,865.0 L655.0,858.3 L656.7,851.7 L658.3,845.0 L659.2,838.3 L661.7,833.3 L666.7,830.0 L671.7,826.7 L675.0,825.8Z" fill="#DDB2D7"/>
<path d="M716.7,725.8 L721.7,726.7 L726.7,725.8 L733.3,726.7 L736.7,731.7 L740.0,736.7 L746.7,740.0 L753.3,745.0 L760.0,745.0 L766.7,746.7 L773.3,748.3 L778.3,751.7 L781.7,758.3 L778.3,763.3 L773.3,766.7 L770.0,771.7 L763.3,776.7 L760.0,781.7 L761.7,786.7 L766.7,790.0 L763.3,796.7 L766.7,801.7 L770.0,806.7 L775.0,811.7 L778.3,816.7 L775.0,823.3 L771.7,831.7 L773.3,840.0 L770.0,846.7 L763.3,851.7 L755.0,855.0 L746.7,855.0 L740.0,856.7 L733.3,858.3 L726.7,855.0 L720.0,848.3 L715.0,841.7 L711.7,836.7 L708.3,833.3 L706.7,826.7 L703.3,825.0 L700.0,830.0 L696.7,835.0 L693.3,841.7 L688.3,845.0 L683.3,840.0 L680.0,835.0 L675.0,831.7 L678.3,825.0 L675.0,820.0 L674.2,813.3 L676.7,806.7 L680.0,800.0 L684.2,792.5 L688.3,786.7 L695.0,781.7 L698.3,773.3 L700.0,766.7 L703.3,760.0 L705.0,753.3 L708.3,746.7 L711.7,736.7 L713.3,730.0Z" fill="#EA5D99"/>
<path d="M1310.0,693.3 L1315.0,696.7 L1319.2,700.0 L1313.3,706.7 L1308.3,713.3 L1304.2,716.7 L1300.0,714.2 L1297.5,711.7 L1300.0,706.7 L1302.5,701.7 L1306.7,696.7Z" fill="#F0CDE4"/>
<path d="M1327.5,1017.5 L1330.0,1021.7 L1330.3,1025.8 L1327.5,1027.5 L1325.0,1025.0 L1325.8,1020.8Z" fill="#EC1352"/>
<path d="M505.0,819.2 L509.2,822.5 L511.7,830.0 L515.0,836.7 L519.2,842.5 L523.3,848.3 L527.5,853.3 L530.0,858.3 L528.3,862.5 L524.2,860.8 L521.7,855.8 L519.2,850.0 L515.0,844.2 L510.8,838.3 L507.5,831.7 L504.2,825.8 L502.5,821.7Z" fill="#F4E2EE"/>
<path d="M396.2,551.9 L400.0,557.5 L403.1,562.2 L398.5,561.0 L395.0,556.2Z" fill="#ffffff"/>
<path d="M1240.5,523.3 L1239.8,524.5 L1238.5,524.5 L1237.9,523.3 L1238.5,522.2 L1239.8,522.2Z" fill="#2b2228"/>
<path d="M1249.6,530.8 L1249.0,532.0 L1247.7,532.0 L1247.0,530.8 L1247.7,529.7 L1249.0,529.7Z" fill="#2b2228"/>
<path d="M1268.0,524.2 L1267.3,525.3 L1266.0,525.3 L1265.4,524.2 L1266.0,523.0 L1267.3,523.0Z" fill="#2b2228"/>
<path d="M1244.6,533.3 L1244.0,534.5 L1242.7,534.5 L1242.0,533.3 L1242.7,532.2 L1244.0,532.2Z" fill="#2b2228"/>
<path d="M1259.6,528.3 L1259.0,529.5 L1257.7,529.5 L1257.0,528.3 L1257.7,527.2 L1259.0,527.2Z" fill="#2b2228"/>
<path d="M1267.1,521.7 L1266.5,522.8 L1265.2,522.8 L1264.5,521.7 L1265.2,520.5 L1266.5,520.5Z" fill="#2b2228"/>
</g>
<g stroke="#221a20" stroke-width="1.4" fill="none" stroke-linejoin="round" stroke-linecap="round">
<path d="M739.2,651.7 L742.5,660.0 L748.3,666.7 L753.3,663.3 L758.3,660.0 L763.3,665.0 L770.0,661.7 L776.7,656.7 L780.0,655.0"/>
<path d="M970.0,496.2 L973.8,492.5 L977.5,487.5 L985.0,482.5 L992.5,481.2 L998.8,483.8"/>
<path d="M975.0,505.0 L981.2,502.5 L980.0,496.2 L986.2,492.5 L993.8,495.0 L996.2,498.8"/>
<path d="M982.5,517.5 L985.0,511.2 L991.2,510.0 L998.8,507.5"/>
<path d="M1047.5,501.2 L1053.8,505.0 L1061.2,502.5 L1066.2,507.5 L1062.5,512.5 L1060.0,517.5"/>
<path d="M1236.7,536.7 L1239.2,541.7 L1243.3,550.0 L1249.2,560.0 L1245.0,568.3"/>
<path d="M1053.3,960.8 L1046.7,960.0 L1041.7,961.7 L1036.7,964.2"/>
<path d="M898.3,761.7 L900.0,756.7 L905.0,753.3 L910.0,755.0 L908.3,760.0 L904.2,758.3"/>
<path d="M521.7,838.3 L526.7,835.8 L533.3,835.0"/>
<path d="M523.3,843.3 L530.0,840.8 L535.8,841.7"/>
</g>
<g font-family="Liberation Sans" font-weight="bold" font-size="25.2" fill="#170b14" stroke="#170b14" stroke-width="0.5">
<text x="697.5" y="385.8" textLength="83.3" lengthAdjust="spacingAndGlyphs">Morena</text>
<text x="919.2" y="357.5" textLength="65.0" lengthAdjust="spacingAndGlyphs">Bhind</text>
<text x="790.0" y="423.3" textLength="85.8" lengthAdjust="spacingAndGlyphs">Gwalior</text>
<text x="762.0" y="573.5" textLength="58.0" lengthAdjust="spacingAndGlyphs">Guna</text>
<text x="977.5" y="570.5" textLength="121.3" lengthAdjust="spacingAndGlyphs">Tikamgarh</text>
<text x="337.5" y="666.3" textLength="112.5" lengthAdjust="spacingAndGlyphs">Mandsaur</text>
<text x="596.3" y="720.0" textLength="88.7" lengthAdjust="spacingAndGlyphs">Rajgarh</text>
<text x="826.3" y="721.3" textLength="62.5" lengthAdjust="spacingAndGlyphs">Sagar</text>
<text x="1012.0" y="740.0" textLength="79.3" lengthAdjust="spacingAndGlyphs">Damoh</text>
<text x="1139.5" y="661.3" textLength="114.3" lengthAdjust="spacingAndGlyphs">Khajuraho</text>
<text x="1270.0" y="630.0" textLength="62.5" lengthAdjust="spacingAndGlyphs">Satna</text>
<text x="1395.0" y="595.0" textLength="61.3" lengthAdjust="spacingAndGlyphs">Rewa</text>
<text x="1466.3" y="690.0" textLength="55.0" lengthAdjust="spacingAndGlyphs">Sidhi</text>
<text x="1324.5" y="816.8" textLength="91.0" lengthAdjust="spacingAndGlyphs">Shahdol</text>
<text x="1110.0" y="853.0" textLength="97.5" lengthAdjust="spacingAndGlyphs">Jabalpur</text>
<text x="1192.0" y="929.3" textLength="80.0" lengthAdjust="spacingAndGlyphs">Mandla</text>
<text x="1137.5" y="1056.3" textLength="99.5" lengthAdjust="spacingAndGlyphs">Balaghat</text>
<text x="912.0" y="1024.5" textLength="134.3" lengthAdjust="spacingAndGlyphs">Chhindwara</text>
<text x="735.0" y="1053.8" textLength="58.8" lengthAdjust="spacingAndGlyphs">Betul</text>
<text x="817.0" y="920.0" textLength="154.3" lengthAdjust="spacingAndGlyphs">Hoshangabad</text>
<text x="751.3" y="856.3" textLength="78.7" lengthAdjust="spacingAndGlyphs">Vidisha</text>
<text x="692.5" y="805.5" textLength="76.3" lengthAdjust="spacingAndGlyphs">Bhopal</text>
<text x="540.0" y="840.5" textLength="73.8" lengthAdjust="spacingAndGlyphs">Dewas</text>
<text x="418.8" y="815.5" textLength="63.7" lengthAdjust="spacingAndGlyphs">Ujjain</text>
<text x="442.5" y="914.0" textLength="70.5" lengthAdjust="spacingAndGlyphs">Indore</text>
<text x="353.8" y="962.5" textLength="52.5" lengthAdjust="spacingAndGlyphs">Dhar</text>
<text x="250.0" y="913.8" textLength="77.5" lengthAdjust="spacingAndGlyphs">Ratlam</text>
<text x="348.8" y="1068.8" textLength="108.7" lengthAdjust="spacingAndGlyphs">Khargone</text>
<text x="512.5" y="1057.0" textLength="103.8" lengthAdjust="spacingAndGlyphs">Khandwa</text>
</g>
<text x="457.5" y="142" font-family="Liberation Sans, sans-serif" font-weight="bold" font-size="117" fill="#000" textLength="999.5" lengthAdjust="spacingAndGlyphs">SEX RATIO OF VOTERS</text>
<rect x="34" y="196.7" width="1846" height="1.1" fill="#D4924A"/>
<g font-family="Liberation Sans" font-weight="bold" fill="#000">
<text x="1442.5" y="1061.7" font-size="47" textLength="126" lengthAdjust="spacingAndGlyphs" stroke="#000" stroke-width="1.2">Legend</text>
<text x="1444.7" y="1103.3" font-size="35" textLength="210.3" lengthAdjust="spacingAndGlyphs" stroke="#000" stroke-width="0.8">Voter Sex Ratio</text>
<rect x="1445.8" y="1121.80" width="40.4" height="24" rx="1.5" fill="#F1EAF6" stroke="#35262e" stroke-width="1.8"/>
<text x="1505" y="1145.80" font-size="33.5" textLength="130" lengthAdjust="spacingAndGlyphs" stroke="#000" stroke-width="0.8">550 - 650</text>
<rect x="1445.8" y="1157.55" width="40.4" height="24" rx="1.5" fill="#DDB2D7" stroke="#35262e" stroke-width="1.8"/>
<text x="1505" y="1181.55" font-size="33.5" textLength="130" lengthAdjust="spacingAndGlyphs" stroke="#000" stroke-width="0.8">650 - 750</text>
<rect x="1445.8" y="1193.30" width="40.4" height="24" rx="1.5" fill="#EA5D99" stroke="#35262e" stroke-width="1.8"/>
<text x="1505" y="1217.30" font-size="33.5" textLength="130" lengthAdjust="spacingAndGlyphs" stroke="#000" stroke-width="0.8">750 - 850</text>
<rect x="1445.8" y="1229.05" width="40.4" height="24" rx="1.5" fill="#EC1352" stroke="#35262e" stroke-width="1.8"/>
<text x="1505" y="1253.05" font-size="33.5" textLength="130" lengthAdjust="spacingAndGlyphs" stroke="#000" stroke-width="0.8">850 - 950</text>
<rect x="1445.8" y="1264.80" width="40.4" height="24" rx="1.5" fill="#A8002E" stroke="#35262e" stroke-width="1.8"/>
<text x="1505" y="1288.80" font-size="33.5" textLength="147.5" lengthAdjust="spacingAndGlyphs" stroke="#000" stroke-width="0.8">950 - 1050</text>
</g>
<text x="22" y="1360.7" font-family="Liberation Sans" font-style="italic" font-size="35.5" fill="#2a2a2a" textLength="475.3" lengthAdjust="spacingAndGlyphs">Source: Election Commission of India</text>
<text x="1616" y="1354" font-family="Liberation Sans" font-weight="bold" font-size="32.6" fill="#000" stroke="#000" stroke-width="0.9" textLength="157.6" lengthAdjust="spacingAndGlyphs">Bloomberg</text>
<rect x="1792.9" y="1325.3" width="1.1" height="41.7" fill="#222"/>
<text x="1812" y="1354" font-family="Liberation Serif" font-style="italic" font-size="42" fill="#000" stroke="#000" stroke-width="0.7" textLength="92" lengthAdjust="spacingAndGlyphs">Quint</text>
</svg>
</body></html>
